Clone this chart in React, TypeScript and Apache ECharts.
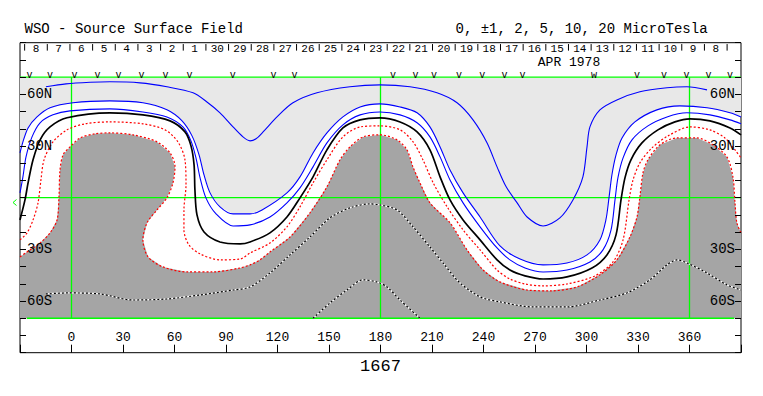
import React, { useEffect, useRef } from "react";
import * as echarts from "echarts";

const FONT = "'Liberation Mono', 'DejaVu Sans Mono', monospace";

// axes
const LON_MIN = -30;
const LON_MAX = 390;
const LAT_MIN = -90;
const LAT_MAX = 90;
const LON_LABELS = [0, 30, 60, 90, 120, 150, 180, 210, 240, 270, 300, 330, 360];
const LAT_LABEL_VALUES = [60, 30, -30, -60];
const LAT_LABEL_TEXTS = ["60N", "30N", "30S", "60S"];

// header (Carrington days)
const DAY_LABELS = ["8", "7", "6", "5", "4", "3", "2", "1", "30", "29", "28", "27", "26", "25", "24", "23", "22", "21", "20", "19", "18", "17", "16", "15", "14", "13", "12", "11", "10", "9", "8"];
const DAY_FIRST_LON = -20.7;
const DAY_STEP_LON = 13.2;
const DAY_LABEL_LAT = 86.6;
const DAY_SEP_LATS = [89.2, 85.4];
const MONTH_LABEL = "APR 1978";
const ROTATION_LABEL = "1667";

// observation marks
const OBS_LONS = [-24.5, -12.5, 1.7, 15.1, 27.4, 40.8, 54.8, 68.7, 93.9, 117.7, 129.9, 187.3, 200.4, 211.2, 225.8, 239.3, 252.2, 262.7, 304.4, 329.4, 345.1, 358.2, 371, 383.6];
const OBS_GLYPHS = ["v", "v", "v", "v", "v", "v", "v", "v", "v", "v", "v", "v", "v", "v", "v", "v", "v", "v", "w", "v", "v", "v", "v", "v"];
const OBS_LAT = 71.2;

// green reference lines
const GREEN_MERIDIANS = [0, 180, 360];
const GREEN_PARALLELS = [70, 0];
const MAP_BOTTOM = [-26, -70, 386, -70];

// contours [lon, lat]
const C_PLUS5 = [[-14.9, 64.4], [-3.2, 66.1], [10.8, 67.0], [22.4, 67.3], [39.9, 66.7], [55.6, 64.4], [70.8, 60.9], [78.9, 55.6], [86.5, 49.3], [94.1, 41.1], [99.9, 35.3], [104, 33.0], [107.5, 34.2], [111.6, 38.2], [119.7, 46.9], [129, 55.1], [143, 60.9], [162.2, 64.4], [179.7, 65.5], [197.2, 64.4], [212.9, 60.9], [224.6, 55.1], [233.9, 45.2], [242.1, 31.8], [247.9, 17.9], [253.2, 6.3], [259.6, -3.0], [265.4, -11.2], [274.7, -16.4], [284.5, -11.7], [292.1, -1.3], [297.9, 12.1], [300.3, 29.5], [302, 41.1], [307.8, 51.0], [317.7, 56.8], [331.1, 61.5], [346.9, 63.8], [358.5, 64.4], [370.2, 62.6]];

const C_PLUS2 = [[-30, 26.0], [-28.3, 32.4], [-25.3, 40.5], [-20.1, 46.9], [-12.5, 52.2], [0.9, 55.1], [22.4, 56.2], [41.6, 55.1], [55.6, 51.0], [64.4, 44.6], [70.2, 35.9], [74.3, 24.9], [77.2, 13.2], [80.7, 2.8], [86.5, -5.3], [94.1, -9.4], [104.0, -9.4], [111.0, -7.1], [125.5, 2.8], [133.1, 12.1], [140.7, 26.0], [148.8, 37.6], [158.1, 46.9], [168.1, 52.7], [179.7, 54.5], [191.4, 52.7], [201.3, 49.3], [208.8, 41.1], [214.7, 29.5], [220.5, 16.1], [228.1, 2.8], [238.0, -11.2], [249.6, -28.0], [261.3, -35.6], [274.7, -39.0], [288.6, -37.9], [300.3, -33.2], [307.8, -24.5], [311.3, -12.9], [313.1, -0.1], [314.8, 13.2], [317.2, 24.9], [320.7, 34.7], [328.2, 44.0], [341.0, 51.0], [354.4, 53.3], [370.2, 52.2], [383.6, 49.3], [390, 46.9]];

const C_PLUS1 = [[-30, 2.8], [-28.3, 12.1], [-26.5, 23.7], [-23.0, 35.3], [-18.3, 43.5], [-10.8, 48.1], [-0.9, 50.4], [22.4, 51.6], [41.6, 49.8], [55.6, 46.9], [64.9, 41.1], [69.6, 33.0], [72.5, 23.1], [74.9, 11.5], [78.3, -0.1], [84.2, -9.4], [94.1, -16.4], [104.0, -15.8], [115.6, -11.2], [125.5, -3.0], [133.1, 5.7], [140.7, 17.9], [148.8, 31.8], [158.1, 42.3], [168.1, 48.1], [179.7, 49.8], [191.4, 48.1], [201.3, 43.5], [208.8, 35.3], [214.7, 23.7], [220.5, 10.3], [228.1, -3.0], [238.0, -16.9], [247.9, -29.2], [255.4, -36.1], [264.2, -40.8], [274.7, -43.1], [288.6, -42.0], [302.0, -37.3], [309.6, -30.3], [314.3, -18.7], [316.6, -1.3], [318.3, 11.5], [321.3, 23.1], [326.5, 33.6], [335.8, 41.7], [346.9, 46.9], [358.5, 49.3], [371.9, 48.1], [383.6, 45.2], [390, 42.9]];

const C_ZERO = [[-30, -12.9], [-27.1, -1.3], [-25.3, 8.6], [-22.4, 22.0], [-18.3, 33.6], [-12.5, 41.1], [-2.6, 46.4], [22.4, 49.3], [41.6, 48.1], [57.4, 44.6], [66.1, 38.2], [69.6, 30.1], [71.4, 19.1], [71.9, 4.5], [73.1, -10.0], [77.2, -19.9], [86.5, -25.7], [98.2, -26.8], [104.0, -25.7], [115.6, -20.4], [125.5, -11.2], [133.1, -0.1], [140.7, 12.1], [148.8, 27.8], [158.1, 40.5], [168.1, 45.2], [179.7, 46.4], [191.4, 44.0], [201.3, 38.2], [208.8, 27.8], [214.7, 12.1], [220.5, -1.3], [228.1, -12.9], [238.0, -24.5], [247.9, -36.1], [255.4, -42.0], [264.2, -45.4], [274.7, -47.2], [288.6, -46.0], [303.2, -40.8], [311.9, -33.2], [317.2, -21.6], [320.1, -1.3], [322.4, 11.5], [325.9, 22.0], [332.3, 31.8], [341.6, 39.4], [351.5, 44.0], [360.3, 45.8], [371.9, 44.6], [383.6, 40.5], [390, 36.5]];

const C_MINUS1 = [[-30, -24.5], [-25.9, -20.4], [-22.4, -12.9], [-19.5, -3.0], [-17.8, 10.3], [-16.0, 22.0], [-10.8, 32.4], [-2.6, 39.4], [7.9, 42.9], [22.4, 44.0], [41.6, 42.9], [54.5, 39.4], [62.0, 32.4], [66.1, 22.0], [66.7, 7.4], [65.5, -7.1], [65.5, -18.7], [68.4, -27.4], [74.9, -32.6], [86.5, -36.1], [98.2, -35.6], [104.0, -32.1], [115.6, -26.3], [125.5, -16.9], [133.1, -5.3], [140.7, 8.6], [148.8, 22.0], [158.1, 35.3], [168.1, 41.1], [179.7, 41.7], [191.4, 39.4], [199.0, 32.4], [204.7, 22.0], [210.7, 8.6], [218.8, -5.3], [228.1, -18.7], [238.0, -30.3], [247.9, -42.0], [255.4, -47.2], [264.2, -50.1], [274.7, -51.2], [288.6, -50.1], [304.9, -45.4], [315.4, -37.3], [321.3, -24.5], [324.8, -1.3], [327.1, 10.3], [331.1, 20.2], [338.1, 28.9], [347.5, 35.9], [360.3, 41.1], [371.9, 39.4], [380.6, 34.7], [386.5, 27.8], [390, 23.1]];

const C_MINUS2 = [[-30, -34.4], [-25.9, -31.5], [-18.3, -26.3], [-12.5, -20.4], [-8.4, -12.9], [-7.3, 0.5], [-6.7, 16.1], [-4.9, 24.9], [-0.9, 29.5], [5.0, 34.7], [13.7, 37.1], [22.4, 37.6], [35.8, 36.5], [49.8, 32.4], [57.4, 26.0], [60.3, 17.9], [59.1, 8.6], [55.6, -0.1], [49.8, -7.1], [44.0, -14.6], [41.6, -24.5], [44.6, -34.4], [53.3, -40.2], [67.3, -43.1], [82.4, -43.1], [98.2, -40.8], [104.0, -39.0], [109.8, -36.1], [115.6, -31.5], [127.3, -22.8], [138.9, -8.8], [148.8, 6.3], [156.4, 22.0], [162.2, 29.5], [169.8, 35.3], [179.7, 36.5], [189.6, 33.6], [195.4, 27.8], [198.9, 17.9], [203.0, 8.6], [208.8, -3.0], [220.5, -14.6], [230.4, -30.3], [239.7, -41.9], [249.6, -48.9], [265.4, -53.6], [278.7, -54.1], [294.5, -51.8], [307.8, -44.8], [317.7, -36.1], [325.3, -22.8], [329.4, -11.2], [331.1, 0.5], [332.9, 14.4], [335.8, 22.0], [342.8, 30.7], [352.7, 34.7], [364.3, 34.7], [373.6, 30.7], [381.8, 23.7], [385.3, 12.1], [386.5, -3.0], [387.6, -14.6], [390, -20.4]];

const C_MINUS5 = [[-14.9, -55.9], [-2.6, -55.3], [16.6, -55.9], [35.8, -59.4], [55.6, -58.8], [74.9, -56.5], [94.1, -53.6], [104.0, -51.8], [115.6, -43.7], [127.3, -33.2], [138.9, -22.8], [150.6, -11.7], [162.2, -5.9], [173.9, -3.6], [179.7, -4.2], [189.6, -7.1], [198.9, -16.9], [208.8, -28.6], [216.4, -37.9], [226.3, -49.5], [238.0, -57.6], [249.6, -60.5], [268.8, -63.4], [288.6, -63.4], [307.8, -59.4], [323.5, -55.3], [336.9, -47.7], [346.9, -39.0], [352.7, -36.1], [358.5, -37.9], [370.2, -43.7], [381.8, -50.6], [390, -53.6]];

const C_MINUS10 = [[140.7, -70], [150.6, -61.1], [160.5, -53.6], [169.8, -47.7], [177.9, -48.9], [183.8, -51.8], [191.4, -59.4], [203.0, -70]];

const MAP_TOP_CORNERS = [[390, 70], [-30, 70]];
const MAP_BOTTOM_CORNERS = [[390, -70], [-30, -70]];

const LIGHT = "#e8e8e8";
const DARK = "#a5a5a5";
const GREEN = "#00ff00";

function fillSeries(points: number[][], color: string, z: number) {
  return {
    type: "custom",
    coordinateSystem: "cartesian2d",
    z,
    silent: true,
    data: points,
    renderItem: (params: any, api: any) => {
      if (params.dataIndex !== 0) return null;
      return {
        type: "polygon",
        shape: { points: points.map((p) => api.coord(p)) },
        style: { fill: color, stroke: null },
      };
    },
  };
}

function contourSeries(data: number[][], color: string, width: number, type: any, z: number) {
  return {
    type: "line",
    data,
    showSymbol: false,
    symbol: "none",
    smooth: 0.3,
    silent: true,
    z,
    lineStyle: { color, width, type },
  };
}

function textStyle(text: string, size: number, align: string, lineHeight: number, fill = "#000") {
  return {
    text,
    fill,
    fontSize: size,
    fontFamily: FONT,
    lineHeight,
    align,
    textAlign: align,
    verticalAlign: "middle",
    textVerticalAlign: "middle",
  };
}

export default function App() {
  const ref = useRef<HTMLDivElement>(null);
  useEffect(() => {
    if (!ref.current) return;
    const chart = echarts.init(ref.current, null, { renderer: "svg" });

    const greenSegments = [
      ...GREEN_MERIDIANS.map((lon) => [lon, -70, lon, 70]),
      ...GREEN_PARALLELS.map((lat) => [LON_MIN, lat, LON_MAX, lat]),
      MAP_BOTTOM,
    ];

    const latLabel = (v: number) => {
      const i = LAT_LABEL_VALUES.indexOf(v);
      return i >= 0 ? LAT_LABEL_TEXTS[i] : "";
    };

    const yAxisBase = {
      type: "value",
      min: LAT_MIN,
      max: LAT_MAX,
      interval: 10,
      z: 10,
      axisLine: { show: false, onZero: false },
      splitLine: { show: false },
      axisTick: { show: true, inside: true, length: 6, lineStyle: { color: "#000", width: 1 } },
      axisLabel: { inside: true, margin: 7, formatter: latLabel, color: "#000", fontFamily: FONT, fontSize: 14, lineHeight: 12 },
    };

    const option: any = {
      animation: false,
      grid: { left: 20, right: 22, top: 42.7, bottom: 43.3, show: true, borderColor: "#000", borderWidth: 1, backgroundColor: "transparent" },
      xAxis: {
        type: "value",
        min: LON_MIN,
        max: LON_MAX,
        interval: 30,
        z: 10,
        axisLine: { show: false, onZero: false },
        splitLine: { show: false },
        axisTick: { show: true, inside: true, length: 8, lineStyle: { color: "#000", width: 1 } },
        axisLabel: {
          inside: true,
          margin: 9,
          color: "#000",
          fontFamily: FONT,
          fontSize: 13,
          lineHeight: 12,
          formatter: (v: number) => (LON_LABELS.indexOf(v) >= 0 ? String(v) : ""),
        },
      },
      yAxis: [
        { ...yAxisBase, position: "left" },
        { ...yAxisBase, position: "right", axisLabel: { ...yAxisBase.axisLabel, margin: 6 } },
      ],
      graphic: {
        elements: [
          { type: "text", x: 24.5, y: 28.5, style: textStyle("WSO - Source Surface Field", 14, "left", 14) },
          { type: "text", x: 455.5, y: 28.5, style: textStyle("0, \u00b11, 2, 5, 10, 20 MicroTesla", 14, "left", 14) },
          { type: "text", x: 569, y: 62.4, style: textStyle(MONTH_LABEL, 13, "center", 11) },
          { type: "text", x: 380.5, y: 366, style: textStyle(ROTATION_LABEL, 17, "center", 17) },
          { type: "polyline", shape: { points: [[16.5, 199.5], [13, 202.5], [16.5, 205.5]] }, style: { stroke: GREEN, lineWidth: 1, fill: null } },
        ],
      },
      series: [
        fillSeries([...C_PLUS2, ...MAP_TOP_CORNERS], LIGHT, 1),
        fillSeries([...C_MINUS2, ...MAP_BOTTOM_CORNERS], DARK, 1),
        {
          type: "custom",
          coordinateSystem: "cartesian2d",
          z: 2,
          silent: true,
          data: greenSegments,
          encode: { x: [0, 2], y: [1, 3] },
          renderItem: (params: any, api: any) => {
            const a = api.coord([api.value(0), api.value(1)]);
            const b = api.coord([api.value(2), api.value(3)]);
            return { type: "line", shape: { x1: a[0], y1: a[1], x2: b[0], y2: b[1] }, style: { stroke: GREEN, lineWidth: 1.3 } };
          },
        },
        contourSeries(C_PLUS5, "#0000ff", 1.1, "solid", 3),
        contourSeries(C_PLUS2, "#0000ff", 1.1, "solid", 3),
        contourSeries(C_PLUS1, "#0000ff", 1.1, "solid", 3),
        contourSeries(C_ZERO, "#000000", 1.7, "solid", 3),
        contourSeries(C_MINUS1, "#ff0000", 1.2, [2, 2], 3),
        contourSeries(C_MINUS2, "#ff0000", 1.2, [2, 2], 3),
        contourSeries(C_MINUS5, "#ffffff", 1.2, "solid", 3),
        contourSeries(C_MINUS5, "#000000", 1.2, [2, 2], 4),
        contourSeries(C_MINUS10, "#ffffff", 1.2, "solid", 3),
        contourSeries(C_MINUS10, "#000000", 1.2, [2, 2], 4),
        {
          type: "custom",
          coordinateSystem: "cartesian2d",
          z: 5,
          silent: true,
          data: DAY_LABELS.map((_, i) => [DAY_FIRST_LON + i * DAY_STEP_LON, DAY_LABEL_LAT]),
          renderItem: (params: any, api: any) => {
            const i = params.dataIndex;
            const lon = api.value(0);
            const c = api.coord([lon, DAY_LABEL_LAT]);
            const sep = (l: number) => {
              const p0 = api.coord([l, DAY_SEP_LATS[0]]);
              const p1 = api.coord([l, DAY_SEP_LATS[1]]);
              return { type: "line", shape: { x1: p0[0], y1: p0[1], x2: p1[0], y2: p1[1] }, style: { stroke: "#000", lineWidth: 1 } };
            };
            const children: any[] = [
              { type: "text", x: c[0], y: c[1], style: textStyle(DAY_LABELS[i], 11, "center", 10) },
              sep(lon - DAY_STEP_LON / 2),
            ];
            if (i === DAY_LABELS.length - 1) children.push(sep(lon + DAY_STEP_LON / 2));
            return { type: "group", children };
          },
        },
        {
          type: "custom",
          coordinateSystem: "cartesian2d",
          z: 5,
          silent: true,
          data: OBS_LONS.map((l) => [l, OBS_LAT]),
          renderItem: (params: any, api: any) => {
            const c = api.coord([api.value(0), api.value(1)]);
            return { type: "text", x: c[0], y: c[1], style: textStyle(OBS_GLYPHS[params.dataIndex], 10, "center", 7) };
          },
        },
      ],
    };
    chart.setOption(option);
    return () => chart.dispose();
  }, []);
  return <div ref={ref} style={{ position: "absolute", left: 0, top: 0, width: 763, height: 396, background: "#fff" }} />;
}
